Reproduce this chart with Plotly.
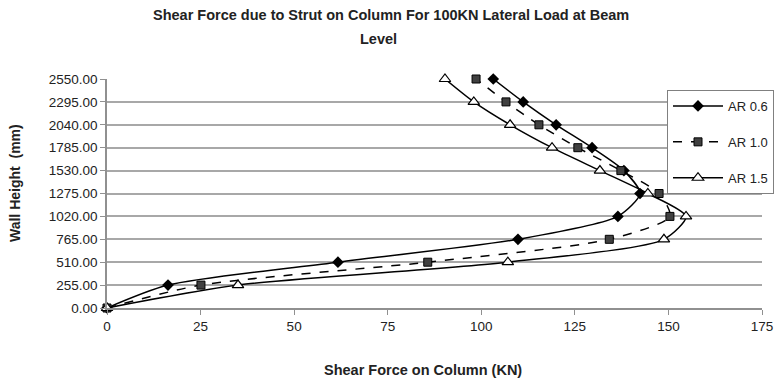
import plotly.graph_objects as go

heights = [0, 255, 510, 765, 1020, 1275, 1530, 1785, 2040, 2295, 2550]
ar06 = [0, 16.3, 61.7, 109.8, 136.5, 142.4, 138.1, 129.6, 120.0, 111.2, 103.2]
ar10 = [0, 25.1, 85.7, 134.2, 150.4, 147.5, 137.3, 125.8, 115.4, 106.6, 98.6]
ar15 = [0, 35.0, 107.1, 148.8, 154.7, 144.5, 131.7, 118.9, 107.7, 98.0, 90.3]
names = ["AR 0.6", "AR 1.0", "AR 1.5"]
x_ticks = [0, 25, 50, 75, 100, 125, 150, 175]
title_lines = ["Shear Force due to Strut on Column For 100KN Lateral Load at Beam", "Level"]

FONT = "Liberation Sans, Arial, sans-serif"
SM = 0.7

fig = go.Figure()
fig.add_trace(go.Scatter(
    x=ar06, y=heights, name=names[0], mode="lines+markers",
    line=dict(color="black", width=1.5, shape="spline", smoothing=SM),
    marker=dict(symbol="diamond", size=9, color="black"),
    cliponaxis=False, legendgroup="a"))
fig.add_trace(go.Scatter(
    x=ar10, y=heights, name=names[1], mode="lines+markers",
    line=dict(color="black", width=1.5, dash="dash", shape="spline", smoothing=SM),
    marker=dict(symbol="square", size=8, color="#404040", line=dict(color="black", width=1)),
    cliponaxis=False, legendgroup="b"))
fig.add_trace(go.Scatter(
    x=ar15, y=heights, name=names[2], mode="lines+markers",
    line=dict(color="black", width=1.5, shape="spline", smoothing=SM),
    marker=dict(symbol="triangle-up", size=10, color="white", line=dict(color="black", width=1.2)),
    cliponaxis=False, legendgroup="c"))

def px_x(p):
    return (p - 107) / 655

def px_y(p):
    return (308 - p) / 229

fig.update_layout(
    width=776, height=378,
    margin=dict(l=107, r=14, t=79, b=70, autoexpand=False),
    paper_bgcolor="white", plot_bgcolor="white",
    font=dict(family=FONT, color="#222222", size=13),
    showlegend=True,
    legend=dict(
        x=px_x(667), y=px_y(90), xanchor="left", yanchor="top",
        bgcolor="white", bordercolor="#808080", borderwidth=1,
        font=dict(family=FONT, size=13, color="#222222"),
        itemwidth=50,
        traceorder="grouped", tracegroupgap=16),
    annotations=[
        dict(text="<b>" + title_lines[0] + "</b>", xref="paper", yref="paper",
             x=px_x(391), y=px_y(15), xanchor="center", yanchor="middle",
             showarrow=False, font=dict(family=FONT, size=14.5, color="#222222")),
        dict(text="<b>" + title_lines[1] + "</b>", xref="paper", yref="paper",
             x=px_x(378), y=px_y(39), xanchor="center", yanchor="middle",
             showarrow=False, font=dict(family=FONT, size=14.5, color="#222222")),
        dict(text="<b>Shear Force on Column (KN)</b>", xref="paper", yref="paper",
             x=px_x(423), y=px_y(370), xanchor="center", yanchor="middle",
             showarrow=False, font=dict(family=FONT, size=14.5, color="#222222")),
        dict(text="<b>Wall Height  (mm)</b>", xref="paper", yref="paper",
             x=px_x(15), y=px_y(183), xanchor="center", yanchor="middle",
             textangle=-90, showarrow=False, font=dict(family=FONT, size=14, color="#222222")),
    ],
)
fig.update_xaxes(
    range=[0, 175], tickvals=x_ticks, showgrid=False, zeroline=False,
    showline=True, linecolor="#909090", linewidth=1.5,
    ticks="outside", ticklen=5, tickcolor="#909090",
    tickfont=dict(family=FONT, size=13.5, color="#222222"))
fig.update_yaxes(
    range=[0, 2550], tick0=0, dtick=255, tickformat=".2f",
    showgrid=True, gridcolor="#a8a8a8", gridwidth=1.5, zeroline=False,
    showline=True, linecolor="#909090", linewidth=1.5,
    ticks="outside", ticklen=5, tickcolor="#909090",
    tickfont=dict(family=FONT, size=13.5, color="#222222"))

fig.write_html("out.html", config={"displayModeBar": False},
               post_script="document.body.style.margin='0';")
